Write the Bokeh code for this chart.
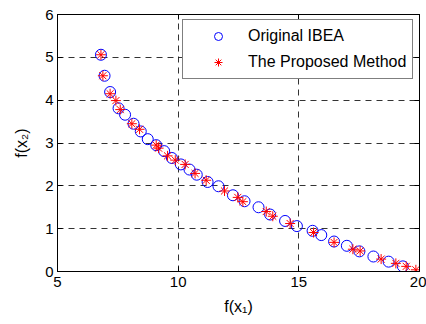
from bokeh.plotting import figure
from bokeh.models import LinearAxis, Range1d, FixedTicker, Legend, LegendItem
from bokeh.embed import file_html
from bokeh.resources import INLINE

# Original IBEA (blue circles)
ibea_x = [6.80, 6.95, 7.18, 7.53, 7.80, 8.15, 8.45, 8.74, 9.09, 9.42, 9.74, 10.11,
          10.47, 10.77, 11.22, 11.67, 12.27, 12.75, 13.33, 13.81, 14.43, 14.92,
          15.57, 15.93, 16.46, 16.99, 17.51, 18.09, 18.72, 19.31]
ibea_y = [5.06, 4.57, 4.19, 3.81, 3.66, 3.45, 3.27, 3.09, 2.95, 2.81, 2.65, 2.50,
          2.38, 2.26, 2.09, 1.99, 1.78, 1.64, 1.50, 1.33, 1.18, 1.06,
          0.95, 0.85, 0.70, 0.60, 0.47, 0.35, 0.23, 0.12]

# The Proposed Method (red asterisks)
prop_x = [6.80, 6.88, 7.18, 7.42, 7.60, 8.08, 8.40, 9.09, 9.19, 9.56, 9.88, 10.29,
          10.70, 11.16, 11.92, 12.47, 12.68, 13.65, 13.92, 14.64, 15.61, 16.46,
          17.24, 17.54, 18.41, 19.02, 19.45, 19.85]
prop_y = [5.06, 4.57, 4.15, 3.99, 3.78, 3.45, 3.32, 2.95, 2.88, 2.70, 2.60, 2.50,
          2.29, 2.13, 1.88, 1.73, 1.63, 1.40, 1.29, 1.12, 0.91, 0.68,
          0.52, 0.48, 0.29, 0.19, 0.12, 0.04]

x_ticks = [5, 10, 15, 20]
y_ticks = [0, 1, 2, 3, 4, 5, 6]

FONT = "Liberation Sans"

p = figure(width=426, height=324, x_range=Range1d(5, 20), y_range=Range1d(0, 6),
           output_backend="svg", toolbar_location=None,
           x_axis_label="f(x\u2081)", y_axis_label="f(x\u2082)",
           min_border_left=57, min_border_right=7, min_border_top=14, min_border_bottom=53)
p.background_fill_color = "white"
p.border_fill_color = "white"
p.outline_line_color = "black"
p.outline_line_width = 1
p.outline_line_alpha = 1

for ax, ticks in ((p.xaxis[0], x_ticks), (p.yaxis[0], y_ticks)):
    ax.ticker = FixedTicker(ticks=ticks)
    ax.major_tick_in = 5
    ax.major_tick_out = 0
    ax.minor_tick_line_color = None
    ax.axis_line_color = "black"
    ax.major_tick_line_color = "black"
    ax.major_label_text_font = FONT
    ax.major_label_text_font_size = "15px"
    ax.major_label_text_color = "black"
    ax.axis_label_text_font = FONT
    ax.axis_label_text_font_size = "16px"
    ax.axis_label_text_font_style = "normal"
    ax.axis_label_text_color = "black"

p.xaxis.major_label_standoff = 5
p.yaxis.major_label_standoff = 4
p.xaxis.axis_label_standoff = 8
p.yaxis.axis_label_standoff = 12

# mirror ticks on top/right (MATLAB box), no labels
top = LinearAxis(ticker=FixedTicker(ticks=x_ticks), major_tick_in=5, major_tick_out=0,
                 minor_tick_line_color=None, major_label_text_color=None,
                 major_label_text_font_size="1px",
                 major_label_standoff=0, axis_line_color="black")
right = LinearAxis(ticker=FixedTicker(ticks=y_ticks), major_tick_in=5, major_tick_out=0,
                   minor_tick_line_color=None, major_label_text_color=None,
                   major_label_text_font_size="1px",
                   major_label_standoff=0, axis_line_color="black")
p.add_layout(top, "above")
p.add_layout(right, "right")

p.xgrid.ticker = FixedTicker(ticks=x_ticks)
p.ygrid.ticker = FixedTicker(ticks=y_ticks)
for g in (p.xgrid[0], p.ygrid[0]):
    g.grid_line_color = "black"
    g.grid_line_alpha = 0.8
    g.grid_line_dash = "6 5"
    g.grid_line_width = 1

r1 = p.scatter(ibea_x, ibea_y, marker="circle", size=11, fill_color=None,
               line_color="#0000ff", line_width=1)
r2 = p.scatter(prop_x, prop_y, marker="asterisk", size=10, line_color="#ff0000",
               line_width=1)

legend = Legend(items=[LegendItem(label="Original IBEA", renderers=[r1]),
                       LegendItem(label="The Proposed Method", renderers=[r2])],
                location=(125, 192))
legend.border_line_color = "black"
legend.border_line_width = 1
legend.background_fill_color = "white"
legend.background_fill_alpha = 1
legend.padding = 6
legend.spacing = 6
legend.margin = 0
legend.glyph_width = 58
legend.glyph_height = 20
legend.label_height = 20
legend.label_standoff = 1
legend.label_text_font = FONT
legend.label_text_font_size = "16px"
legend.label_text_color = "black"
p.add_layout(legend, "center")

open("out.html", "w").write(file_html(p, INLINE))
